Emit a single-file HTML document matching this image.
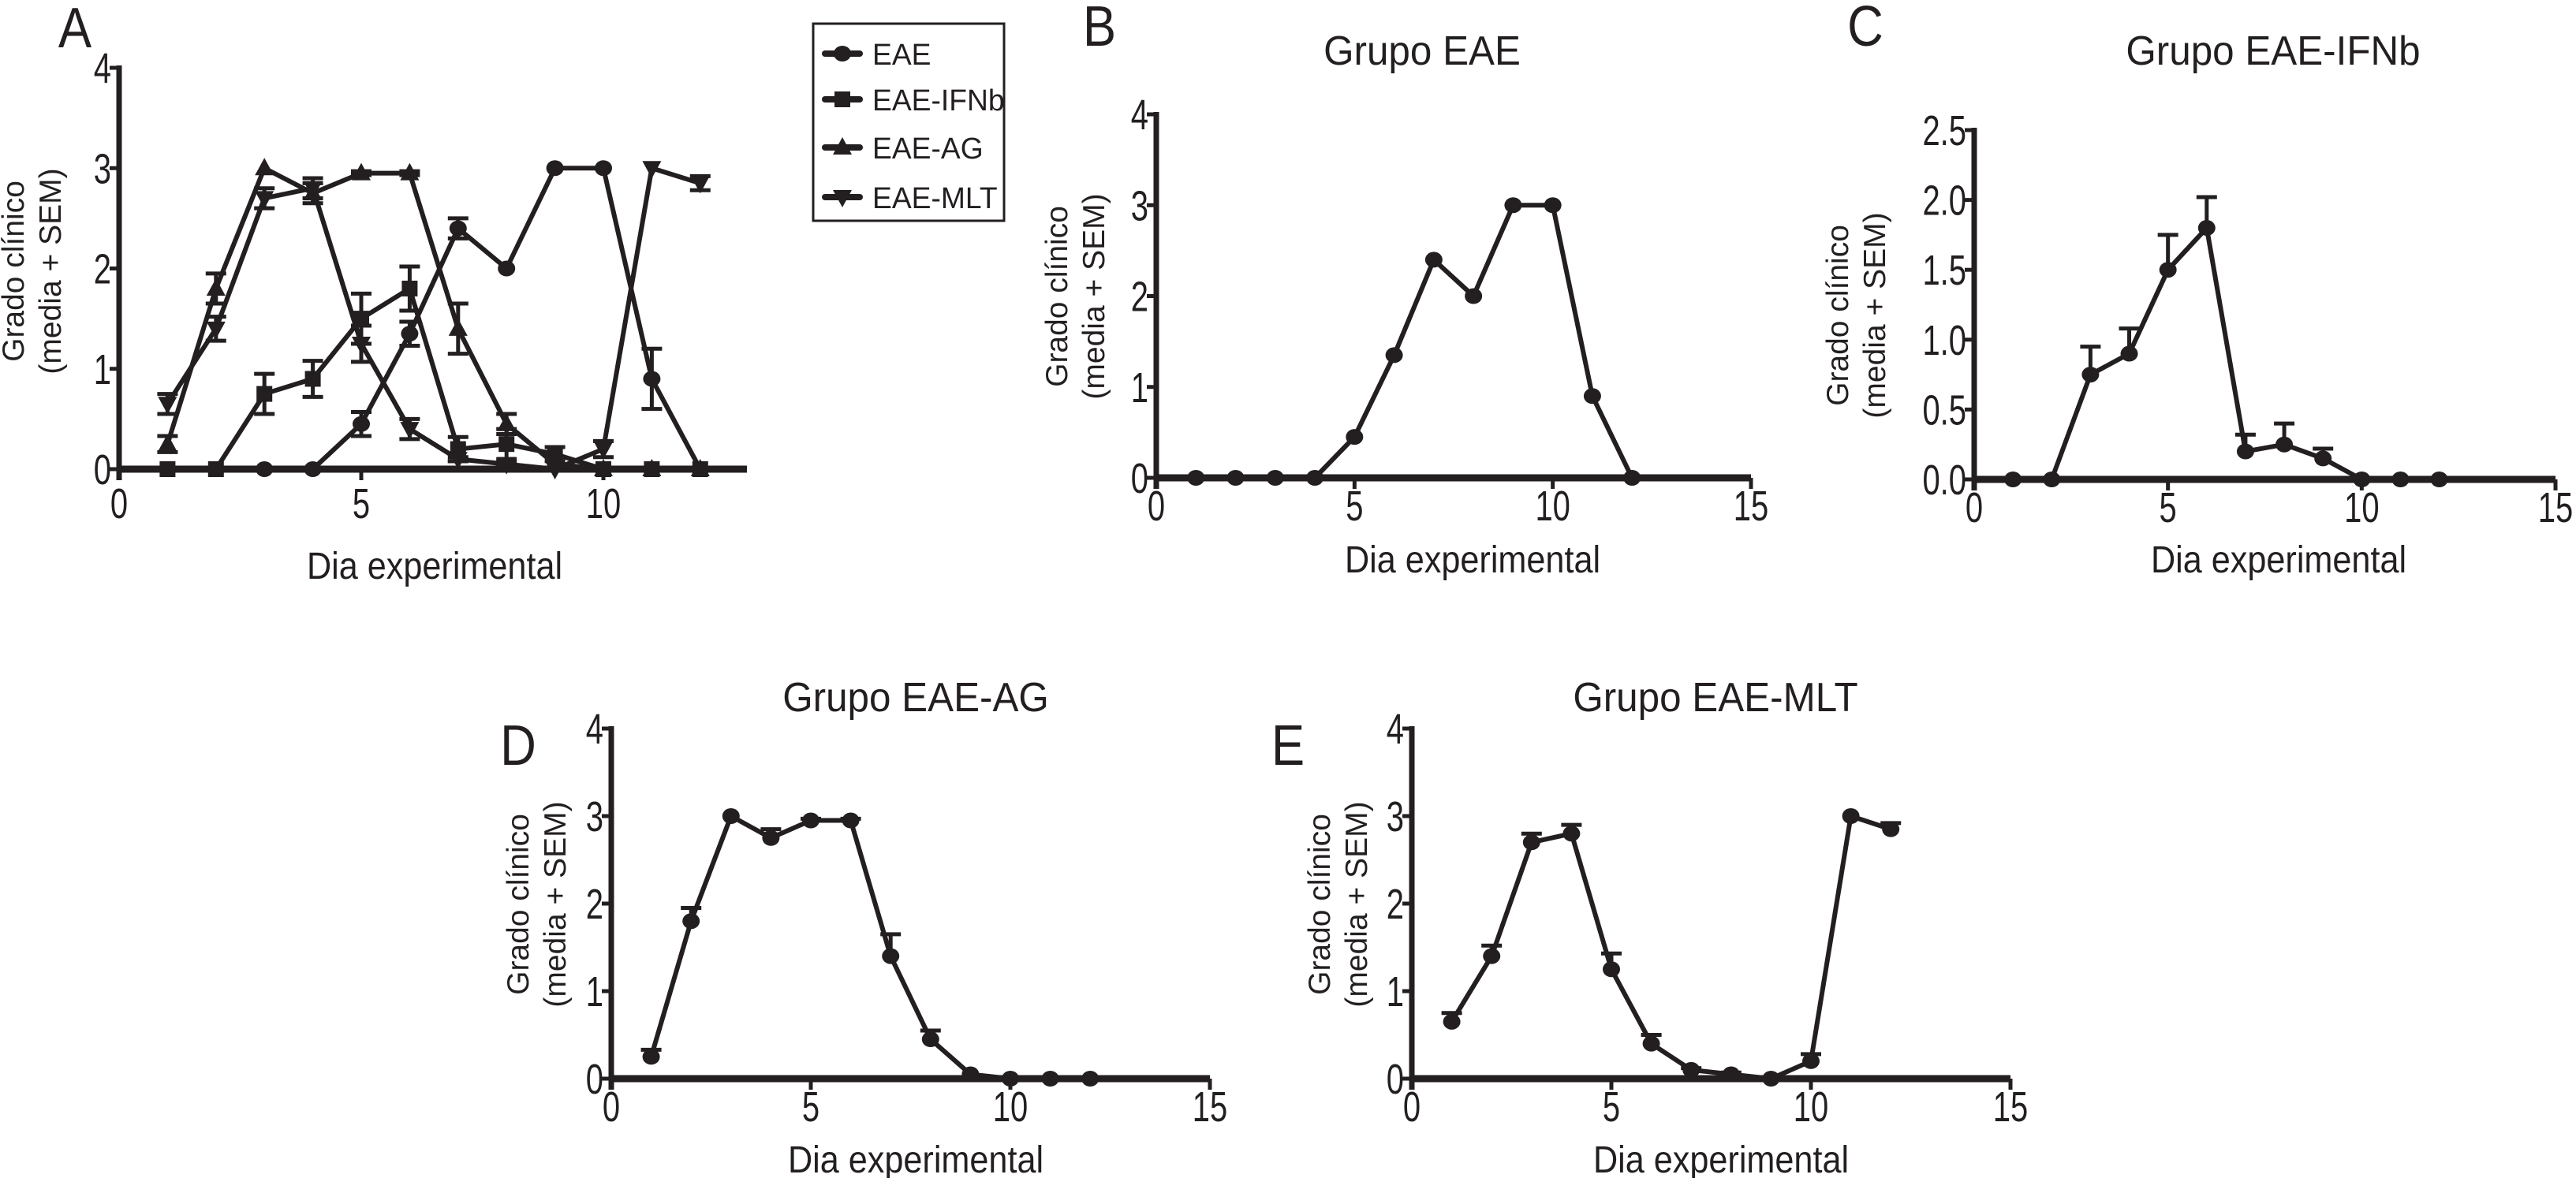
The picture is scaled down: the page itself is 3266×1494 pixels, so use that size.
<!DOCTYPE html>
<html><head><meta charset="utf-8"><style>
html,body{margin:0;padding:0;background:#fff;}
svg{display:block;font-family:"Liberation Sans",sans-serif;}
</style></head>
<body>
<svg id="fig" width="3266" height="1494" viewBox="0 0 3266 1494" xmlns="http://www.w3.org/2000/svg"></svg>
<script>
const days = [1,2,3,4,5,6,7,8,9,10,11,12];
const eaeValues = [0,0,0,0,0.45,1.35,2.4,2,3,3,0.9,0];
const eaeErr = [0,0,0,0,0.12,0.12,0.1,0,0,0,0.3,0];
const ifnValues = [0,0,0.75,0.9,1.5,1.8,0.2,0.25,0.15,0,0,0];
const ifnErr = [0,0,0.2,0.18,0.25,0.22,0.12,0.15,0.07,0,0,0];
const agValues = [0.25,1.8,3,2.75,2.95,2.95,1.4,0.45,0.05,0,0,0];
const agErr = [0.08,0.15,0,0.1,0.02,0.02,0.25,0.1,0,0,0,0];
const mltValues = [0.65,1.4,2.7,2.8,1.25,0.4,0.1,0.05,0,0.2,3,2.85];
const mltErr = [0.1,0.12,0.1,0.1,0.18,0.1,0.02,0.02,0,0.08,0,0.07];
const yTicks4 = [0,1,2,3,4];
const yTicksC = [0,0.5,1,1.5,2,2.5];
const xTicks = [0,5,10,15];
const xTicksA = [0,5,10];
const legendLabels = ["EAE","EAE-IFNb","EAE-AG","EAE-MLT"];

const NS = "http://www.w3.org/2000/svg";
const svg = document.getElementById('fig');
function mk(tag, attrs, parent){
  const e = document.createElementNS(NS, tag);
  for (const k in attrs) e.setAttribute(k, attrs[k]);
  (parent||svg).appendChild(e);
  return e;
}
function txt(str, x, y, size, anchor, sx, parent, rot){
  const t = mk('text', {'font-size':size, 'text-anchor':anchor||'middle', fill:'#231f20',
    transform:'translate('+x+','+y+')'+(rot?' rotate('+rot+')':'')+' scale('+(sx||1)+',1)'}, parent);
  t.textContent = str;
  return t;
}
function marker(g, shape, cx, cy){
  let m;
  if (shape==='circle') m = mk('ellipse',{cx:cx,cy:cy,rx:11,ry:10,fill:'#231f20'},g);
  else if (shape==='square') m = mk('rect',{x:cx-10,y:cy-10,width:20,height:20,fill:'#231f20'},g);
  else if (shape==='up') m = mk('polygon',{points:(cx)+','+(cy-13)+' '+(cx-12)+','+(cy+9)+' '+(cx+12)+','+(cy+9),fill:'#231f20'},g);
  else m = mk('polygon',{points:(cx)+','+(cy+13)+' '+(cx-12)+','+(cy-9)+' '+(cx+12)+','+(cy-9),fill:'#231f20'},g);
  return m;
}

function panel(cfg){
  const g = mk('g',{});
  
  
  const X = v => cfg.x0 + (v - 0) * cfg.xUnit;
  const Y = v => cfg.y0 - v / cfg.ymax * (cfg.y0 - cfg.yTop);
  const ya = mk('line',{x1:cfg.x0,y1:cfg.yTop-3,x2:cfg.x0,y2:cfg.y0+14,stroke:'#231f20','stroke-width':7},g);
  
  
  const xa = mk('line',{x1:cfg.x0,y1:cfg.y0,x2:cfg.xEnd,y2:cfg.y0,stroke:'#231f20','stroke-width':9},g);
  
  
  cfg.yt.forEach(v=>{
    mk('line',{x1:cfg.x0-12,y1:Y(v),x2:cfg.x0,y2:Y(v),stroke:'#231f20','stroke-width':5},g);
    const t = txt(cfg.fmt(v), cfg.x0-10, Y(v)+19, 54, 'end', 0.74, g);
    
    
  });
  cfg.xt.forEach(v=>{
    mk('line',{x1:X(v),y1:cfg.y0,x2:X(v),y2:cfg.y0+14,stroke:'#231f20','stroke-width':5},g);
    const t = txt(String(v), X(v), cfg.y0+cfg.tickDy, 54, 'middle', 0.74, g);
    
    
  });
  const xl = txt('Dia experimental', cfg.xlX, cfg.xlY, 48, 'middle', 0.9, g);
  
  
  const yl1 = txt('Grado clínico', cfg.ylX, cfg.ylY, 39, 'middle', 1, g, -90);
  
  
  const yl2 = txt('(media + SEM)', cfg.ylX+47, cfg.ylY, 39, 'middle', 1, g, -90);
  
  
  if (cfg.title){
    const tt = txt(cfg.title, cfg.tX, cfg.tY, 52, 'middle', 0.95, g);
    
    
  }
  const lt = txt(cfg.letter, cfg.lX, cfg.lY, 72, 'middle', 0.88, g);
  
  
  cfg.series.forEach(s=>{
    const sg = mk('g',{},g);
    
    
    s.vals.forEach((v,i)=>{
      const e = s.err[i];
      if (e>0){
        const xx = X(days[i]);
        const top = Y(v+e), bot = cfg.both ? Y(Math.max(0,v-e)) : Y(v);
        const eb = mk('path',{d:'M'+xx+','+top+'V'+bot+'M'+(xx-13)+','+top+'H'+(xx+13)+(cfg.both?'M'+(xx-13)+','+bot+'H'+(xx+13):''),
          stroke:'#231f20','stroke-width':5,fill:'none'},sg);
        
        
      }
    });
    const pts = s.vals.map((v,i)=>X(days[i])+','+Y(v)).join(' ');
    const pl = mk('polyline',{points:pts,fill:'none',stroke:'#231f20','stroke-width':6,'stroke-linejoin':'round'},sg);
    
    
    s.vals.forEach((v,i)=>{
      const m = marker(sg, s.shape, X(days[i]), Y(v));
      
      
    });
  });
}
const f0 = v=>String(v), f1 = v=>v.toFixed(1);

panel({name:'panel-a',letter:'A',lX:95,lY:60,x0:151,xUnit:61.4,xEnd:947,y0:595,yTop:86,ymax:4,yt:yTicks4,xt:xTicksA,fmt:f0,tickDy:62,
  xlX:551,xlY:734,ylX:30,ylY:344,both:true,
  series:[{key:'eae',vals:eaeValues,err:eaeErr,shape:'circle'},{key:'ifnb',vals:ifnValues,err:ifnErr,shape:'square'},
          {key:'ag',vals:agValues,err:agErr,shape:'up'},{key:'mlt',vals:mltValues,err:mltErr,shape:'down'}]});
panel({name:'panel-b',letter:'B',lX:1394,lY:58,title:'Grupo EAE',tX:1803,tY:82,x0:1466,xUnit:(2220-1466)/15,xEnd:2220,y0:606,yTop:145,ymax:4,yt:yTicks4,xt:xTicks,fmt:f0,tickDy:54,
  xlX:1867,xlY:726,ylX:1353,ylY:376,both:false,series:[{key:'eae',vals:eaeValues,err:eaeErr.map(()=>0),shape:'circle'}]});
panel({name:'panel-c',letter:'C',lX:2365,lY:58,title:'Grupo EAE-IFNb',tX:2882,tY:82,x0:2503,xUnit:(3240-2503)/15,xEnd:3240,y0:608,yTop:165,ymax:2.5,yt:yTicksC,xt:xTicks,fmt:f1,tickDy:54,
  xlX:2889,xlY:726,ylX:2343,ylY:400,both:false,series:[{key:'ifnb',vals:ifnValues,err:ifnErr,shape:'circle'}]});
panel({name:'panel-d',letter:'D',lX:657,lY:970,title:'Grupo EAE-AG',tX:1161,tY:902,x0:775,xUnit:(1534-775)/15,xEnd:1534,y0:1368,yTop:924,ymax:4,yt:yTicks4,xt:xTicks,fmt:f0,tickDy:54,
  xlX:1161,xlY:1487,ylX:670,ylY:1147,both:false,series:[{key:'ag',vals:agValues,err:agErr,shape:'circle'}]});
panel({name:'panel-e',letter:'E',lX:1633,lY:970,title:'Grupo EAE-MLT',tX:2175,tY:902,x0:1790,xUnit:(2549-1790)/15,xEnd:2549,y0:1368,yTop:924,ymax:4,yt:yTicks4,xt:xTicks,fmt:f0,tickDy:54,
  xlX:2182,xlY:1487,ylX:1686,ylY:1147,both:false,series:[{key:'mlt',vals:mltValues,err:mltErr,shape:'circle'}]});

const lg = mk('g',{});


mk('rect',{x:1031,y:30,width:242,height:250,fill:'#fff',stroke:'#231f20','stroke-width':3},lg);
const shapes = ['circle','square','up','down'];
const rowY = [68,126,187,250];
legendLabels.forEach((lab,i)=>{
  const eg = mk('g',{},lg);
  
  
  mk('line',{x1:1046,y1:rowY[i],x2:1090,y2:rowY[i],stroke:'#231f20','stroke-width':8,'stroke-linecap':'round'},eg);
  marker(eg, shapes[i], 1068, rowY[i]);
  txt(lab, 1106, rowY[i]+14, 38, 'start', 0.98, eg);
});
</script>
</body></html>
